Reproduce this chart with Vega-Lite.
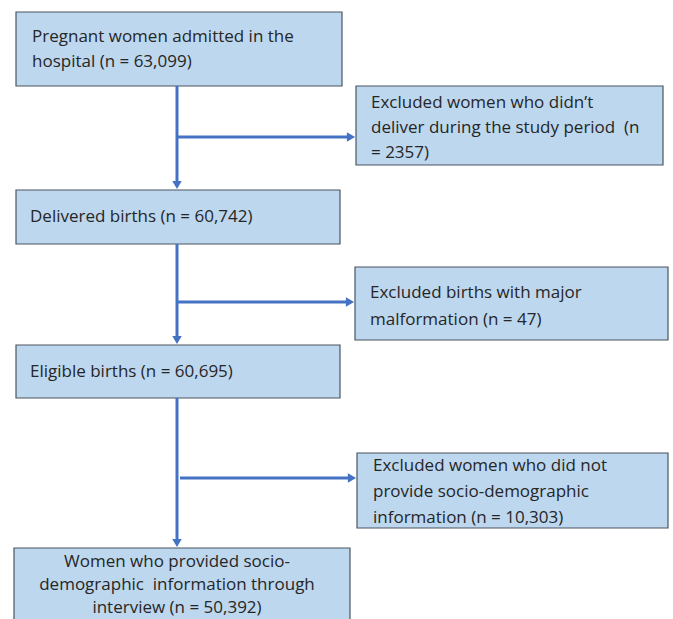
{
  "$schema": "https://vega.github.io/schema/vega-lite/v6.json",
  "width": 673,
  "height": 619,
  "autosize": {"type": "fit", "contains": "padding"},
  "padding": 0,
  "background": "white",
  "config": {"view": {"stroke": null}},
  "datasets": {
    "boxes": [
      {"id": "b1", "x": 16, "x2": 342, "y": 12, "y2": 86},
      {"id": "e1", "x": 356, "x2": 663, "y": 86, "y2": 165},
      {"id": "b2", "x": 16, "x2": 340, "y": 190, "y2": 244},
      {"id": "e2", "x": 355, "x2": 668, "y": 267, "y2": 340},
      {"id": "b3", "x": 16, "x2": 340, "y": 345, "y2": 398},
      {"id": "e3", "x": 357, "x2": 668, "y": 453, "y2": 528},
      {"id": "b4", "x": 14, "x2": 350, "y": 548, "y2": 630}
    ],
    "lines": [
      {"x": 177, "x2": 177, "y": 86, "y2": 186},
      {"x": 177, "x2": 350, "y": 137, "y2": 137},
      {"x": 177, "x2": 177, "y": 244, "y2": 341},
      {"x": 177, "x2": 349, "y": 302, "y2": 302},
      {"x": 177, "x2": 177, "y": 398, "y2": 544},
      {"x": 180, "x2": 351, "y": 478, "y2": 478}
    ],
    "downArrows": [
      {"x": 177, "y": 186},
      {"x": 177, "y": 341},
      {"x": 177, "y": 544}
    ],
    "rightArrows": [
      {"x": 351, "y": 137},
      {"x": 350, "y": 302},
      {"x": 352, "y": 478}
    ],
    "leftText": [
      {"t": "Pregnant women admitted in the", "x": 32, "y": 37},
      {"t": "hospital (n = 63,099)", "x": 32, "y": 62},
      {"t": "Excluded women who didn\u2019t", "x": 371, "y": 103},
      {"t": "deliver during the study period \u00a0(n", "x": 371, "y": 128},
      {"t": "= 2357)", "x": 371, "y": 153},
      {"t": "Delivered births (n = 60,742)", "x": 30, "y": 217},
      {"t": "Excluded births with major", "x": 370, "y": 293},
      {"t": "malformation (n = 47)", "x": 370, "y": 320},
      {"t": "Eligible births (n = 60,695)", "x": 30, "y": 372},
      {"t": "Excluded women who did not", "x": 373, "y": 466},
      {"t": "provide socio-demographic", "x": 373, "y": 492},
      {"t": "information (n = 10,303)", "x": 373, "y": 518}
    ],
    "centerText": [
      {"t": "Women who provided socio-", "x": 177, "y": 562},
      {"t": "demographic \u00a0information through", "x": 177, "y": 585},
      {"t": "interview (n = 50,392)", "x": 177, "y": 608}
    ]
  },
  "layer": [
    {
      "data": {"name": "boxes"},
      "mark": {"type": "rect", "fill": "#bdd7ee", "stroke": "#4a5560", "strokeWidth": 1.2, "clip": true},
      "encoding": {
        "x": {"field": "x", "type": "quantitative", "scale": {"domain": [0, 673], "nice": false, "zero": false}, "axis": null},
        "x2": {"field": "x2"},
        "y": {"field": "y", "type": "quantitative", "scale": {"domain": [0, 619], "nice": false, "zero": false, "reverse": true}, "axis": null},
        "y2": {"field": "y2"}
      }
    },
    {
      "data": {"name": "lines"},
      "mark": {"type": "rule", "color": "#4472c4", "strokeWidth": 3},
      "encoding": {
        "x": {"field": "x", "type": "quantitative"},
        "x2": {"field": "x2"},
        "y": {"field": "y", "type": "quantitative"},
        "y2": {"field": "y2"}
      }
    },
    {
      "data": {"name": "downArrows"},
      "mark": {"type": "point", "shape": "triangle-down", "filled": true, "color": "#4472c4", "size": 90, "opacity": 1, "yOffset": -1},
      "encoding": {
        "x": {"field": "x", "type": "quantitative"},
        "y": {"field": "y", "type": "quantitative"}
      }
    },
    {
      "data": {"name": "rightArrows"},
      "mark": {"type": "point", "shape": "triangle-right", "filled": true, "color": "#4472c4", "size": 90, "opacity": 1, "xOffset": 0},
      "encoding": {
        "x": {"field": "x", "type": "quantitative"},
        "y": {"field": "y", "type": "quantitative"}
      }
    },
    {
      "data": {"name": "leftText"},
      "mark": {"type": "text", "align": "left", "baseline": "middle", "font": "Open Sans", "fontSize": 17, "color": "#262626"},
      "encoding": {
        "x": {"field": "x", "type": "quantitative"},
        "y": {"field": "y", "type": "quantitative"},
        "text": {"field": "t"}
      }
    },
    {
      "data": {"name": "centerText"},
      "mark": {"type": "text", "align": "center", "baseline": "middle", "font": "Open Sans", "fontSize": 17, "color": "#262626"},
      "encoding": {
        "x": {"field": "x", "type": "quantitative"},
        "y": {"field": "y", "type": "quantitative"},
        "text": {"field": "t"}
      }
    }
  ]
}
